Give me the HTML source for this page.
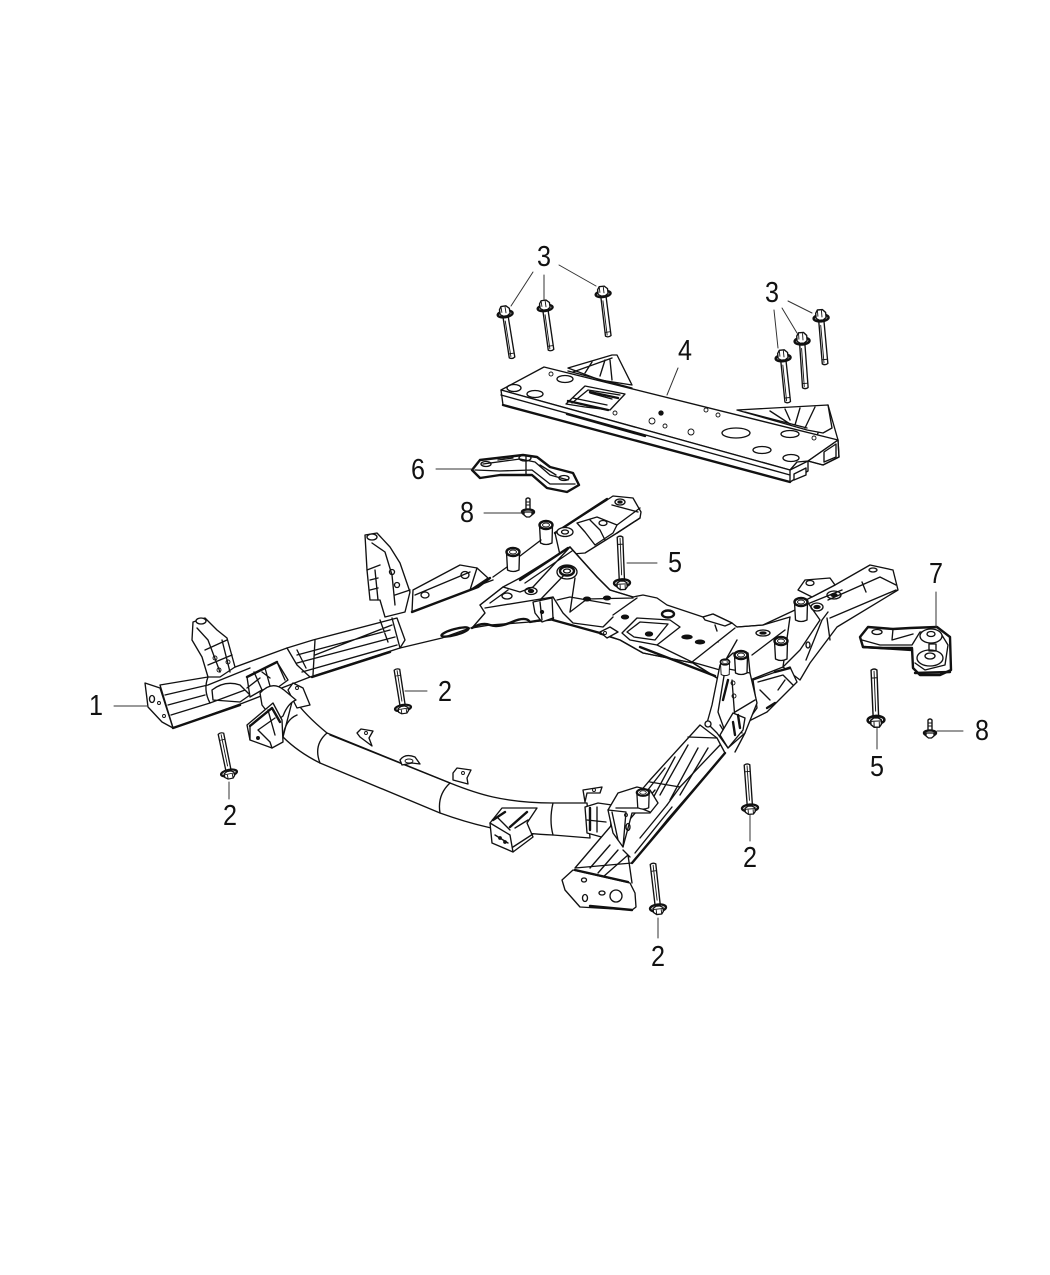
<!DOCTYPE html>
<html><head><meta charset="utf-8"><style>
html,body{margin:0;padding:0;background:#fff}
svg{display:block}
text{font-family:"Liberation Sans",sans-serif;font-size:29px;fill:#111;text-anchor:middle}
path,polygon,circle,ellipse,line,polyline{stroke:#111;stroke-width:1.35;stroke-linejoin:round;stroke-linecap:round}
.f{fill:#fff}.n{fill:none}.k{fill:#111}
.t{stroke-width:.9!important}
.h{stroke-width:2.4!important}
.l line{stroke:#333;stroke-width:1}
</style></head><body>
<svg width="1050" height="1275" viewBox="0 0 1050 1275" xmlns="http://www.w3.org/2000/svg">
<defs>
<g id="bolt"><path class="f" d="M-2.6,-3 L-2.8,-45 Q0,-47 2.8,-45 L2.6,-3Z"/><path class="n t" d="M0,-8V-44M-2.7,-38H2.7"/><ellipse class="f h" cx="0" cy="0" rx="8" ry="3.6"/><path class="f" d="M-5,0 L-5,4 L-2,6.5 L3,6.5 L5,4 L5,0 L2,-2 L-2,-2Z"/><path class="n t" d="M-2,2V6M3,2V6M-5,1H5"/></g>
<g id="bolt3"><path class="f" d="M-2.6,-3 L-2.8,-45 Q0,-47 2.8,-45 L2.6,-3Z"/><path class="n t" d="M1,-8V-44M-2.7,-41H2.7"/><ellipse class="f h" cx="0" cy="-1" rx="7.5" ry="3.2"/><path class="f" d="M-5,-1 L-5,4 L-2,7 L3,7 L5,4 L5,-1 L2,-3 L-2,-3Z"/><path class="n t" d="M-1,0V6M3,1V6"/></g>
<g id="b8"><path class="f" d="M-2,-2 L-2,-13 Q0,-15 2,-13 L2,-2Z"/><path class="n t" d="M-2,-10H2M-2,-7H2"/><ellipse class="f h" cx="0" cy="0" rx="6" ry="2.6"/><path class="f" d="M-4,0 L-4,3 L-1.5,5 L1.5,5 L4,3 L4,0Z"/></g>
<g id="bush"><path class="f" d="M-6.5,-10 L-5.5,8 Q0,11 6,8 L6.5,-10Z"/><ellipse class="f h" cx="0" cy="-10" rx="6.5" ry="4"/><ellipse class="f t" cx="0" cy="-10" rx="3.5" ry="2"/></g>
</defs>
<rect width="1050" height="1275" fill="#fff"/>
<g>

<!-- PART 4 -->
<path class="f" d="M828,405L838,440L839,457L823,465L808,461Z"/>
<polygon class="f" points="568,368 612,355 617,355 632,385 600,380"/>
<path class="n" d="M573,372L612,358M585,373L592,362M600,376L605,360M612,380L610,360M568,371L632,388"/>
<polygon class="f" points="737,410 828,405 832,428 823,433 807,430"/>
<path class="n" d="M745,412L807,428M770,411L790,424M785,409L790,420M800,408L795,425M815,407L805,428"/>
<polygon class="f" points="501,390 544,367 838,440 808,461 797,462 790,470"/>
<polygon class="f" points="501,390 790,470 790,482 503,405"/>
<path class="n" d="M501,395L790,475M503,405L790,482M790,470L808,461L808,471L790,482M808,461L838,440L839,457L823,465L808,461"/>
<path class="f" d="M794,474L806,468V475L794,480Z"/><path class="f" d="M824,452L836,444V457L824,462Z"/>
<path class="n h" d="M503,405L790,482M567,414L645,436"/>
<path class="f" d="M566,404L585,386L625,394L610,410L585,407Z"/>
<path class="n" d="M572,403L588,390L620,395M590,393L612,399M573,398L607,405"/>
<path class="n h" d="M568,401L608,410M590,392L618,398"/>
<ellipse class="n" cx="565" cy="379" rx="8" ry="3.5"/><ellipse class="n" cx="535" cy="394" rx="8" ry="3.5"/>
<ellipse class="n" cx="514" cy="388" rx="7" ry="3.5"/><ellipse class="n" cx="736" cy="433" rx="14" ry="5"/>
<ellipse class="n" cx="790" cy="434" rx="9" ry="3.5"/><ellipse class="n" cx="762" cy="450" rx="9" ry="3.5"/><ellipse class="n" cx="791" cy="458" rx="8" ry="3.5"/>
<circle class="n t" cx="615" cy="413" r="2"/><circle class="k" cx="661" cy="413" r="2"/><circle class="n t" cx="652" cy="421" r="3"/><circle class="n t" cx="665" cy="426" r="2"/><circle class="n t" cx="691" cy="432" r="3"/><circle class="n t" cx="706" cy="410" r="2"/><circle class="n t" cx="718" cy="415" r="2"/><circle class="n t" cx="814" cy="438" r="2"/><circle class="n t" cx="551" cy="374" r="2"/>

<!-- 3 bolts -->
<use href="#bolt3" transform="translate(505,313) rotate(171)"/>
<use href="#bolt3" transform="translate(545,307) rotate(172) scale(1,.96)"/>
<use href="#bolt3" transform="translate(603,293) rotate(173) scale(1,.96)"/>
<use href="#bolt3" transform="translate(821,317) rotate(175) scale(1,1.04)"/>
<use href="#bolt3" transform="translate(802,340) rotate(176) scale(1,1.06)"/>
<use href="#bolt3" transform="translate(783,357) rotate(174)"/>

<!-- PART 6 -->
<path class="f h" d="M472,470L480,460L523,455L537,457L550,467L573,473L579,485L567,492L547,488L532,475L500,475L480,478Z"/>
<path class="n" d="M475,470L500,471L532,470L550,484L575,484M483,464L520,459L535,462L550,475L568,480M526,456L526,475"/>
<ellipse class="n" cx="486" cy="464" rx="5" ry="2.5"/><ellipse class="n" cx="525" cy="458" rx="6" ry="3"/><ellipse class="n" cx="564" cy="478" rx="5" ry="2.5"/>
<path class="n" d="M498,460L513,458M540,465L556,475"/>

<!-- Far rail: thin connecting lines -->
<path class="n" d="M412,610L493,580M400,648L442,638L470,628"/>
<ellipse class="n h" cx="455" cy="632" rx="14" ry="3" transform="rotate(-15 455 632)"/>

<!-- far rail end -->
<path class="f" d="M555,533L607,500L613,496L633,498L641,512L640,518L617,533L585,553L560,555Z"/>
<path class="n h" d="M555,533L607,499"/>
<path class="n" d="M617,533L640,518M612,505L638,512M617,525L640,508"/>
<path class="f" d="M577,523L597,517L617,525L613,533L595,545L585,532Z"/>
<path class="n" d="M590,520L600,530L605,540"/>
<ellipse class="n" cx="620" cy="502" rx="5" ry="3"/><ellipse class="k" cx="620" cy="502" rx="2" ry="1"/>
<ellipse class="f" cx="565" cy="532" rx="8" ry="4.5"/><ellipse class="n" cx="565" cy="532" rx="3.5" ry="2"/>
<ellipse class="n" cx="603" cy="523" rx="4" ry="2.5"/>

<!-- bracket plate B2 -->
<polygon class="f" points="413,590 460,565 477,568 488,578 470,590 412,612"/>
<path class="n h" d="M412,612L478,587L490,578"/>
<path class="n" d="M477,568L470,590M415,595L470,572"/>
<ellipse class="n" cx="425" cy="595" rx="4" ry="3"/><ellipse class="n" cx="465" cy="575" rx="4" ry="3.5"/>

<!-- Bracket B -->
<polygon class="f" points="365,535 377,533 390,547 400,563 410,592 405,612 385,617 380,600 370,600 367,570"/>
<path class="n" d="M372,543L385,552L392,575L395,605M375,570L378,600M367,570L380,565M395,595L410,590M370,580L378,578M370,590L378,588"/>
<circle class="n" cx="392" cy="572" r="2.5"/><circle class="n" cx="397" cy="585" r="2.5"/><ellipse class="f" cx="372" cy="537" rx="5" ry="3"/>

<!-- CENTER section -->
<path class="f" d="M472,628L485,613L480,605L503,587L520,578L570,547L597,577L610,590L633,597L643,595L657,598L667,605L703,617L713,614L732,623L737,627L763,625L790,617L783,667L750,680L717,678L693,663L643,653L620,640L600,633L553,620L530,622L490,625Z"/>
<path class="n h" d="M472,628Q482,622 490,625T512,622T530,622L553,618"/>
<path class="n h" d="M520,580L568,548"/>
<path class="n" d="M525,583L572,551M503,587L520,592L533,587L570,547M485,608L553,597M480,605L503,587M490,603L508,590"/>
<ellipse class="n" cx="531" cy="591" rx="6" ry="3.5"/><ellipse class="k" cx="531" cy="591" rx="2.5" ry="1.5"/>
<ellipse class="n" cx="507" cy="596" rx="5" ry="3"/>
<path class="n" d="M570,547L597,577L610,590L633,597M570,612L587,599L633,598M613,615L637,598M553,597L563,613L573,623L603,627L613,617M557,600L570,597L610,604M553,620L600,633"/>
<path class="n" d="M540,600L567,572M575,578L570,612M600,634L620,640L643,653L693,663L717,678"/>
<path class="n h" d="M553,620L600,633M640,647L715,676"/>
<polygon class="f" points="533,602 552,598 553,618 542,622 535,613"/>
<path class="n" d="M540,602L542,620"/>
<circle class="k" cx="542" cy="612" r="1.5"/>
<ellipse class="f h" cx="567" cy="571" rx="7" ry="4.5"/><ellipse class="n" cx="567" cy="571" rx="3.5" ry="2"/><ellipse class="n" cx="567" cy="572" rx="10" ry="7"/>
<path class="f" d="M600,632L610,627L618,632L607,638Z"/><circle class="n t" cx="605" cy="633" r="1.5"/>
<path class="f" d="M622,633L637,618L670,620L680,627L657,645L630,640Z"/><path class="n" d="M627,632L640,622L668,624L655,640L634,637Z"/>
<path class="n" d="M657,645L692,662L735,628M692,662L720,670L737,640"/>
<ellipse class="f h" cx="668" cy="614" rx="6" ry="3.5"/>
<path class="f" d="M703,617L713,614L732,623L725,626L705,620Z"/>
<g class="k"><ellipse cx="587" cy="599" rx="3.5" ry="1.8"/><ellipse cx="607" cy="598" rx="3.5" ry="1.8"/><ellipse cx="625" cy="617" rx="3.5" ry="1.8"/><ellipse cx="649" cy="634" rx="3.5" ry="2"/><ellipse cx="687" cy="637" rx="5" ry="1.8"/><ellipse cx="700" cy="642" rx="4.5" ry="1.8"/></g>
<path class="n" d="M715,625L717,631M718,642h.1"/>
<path class="n" d="M737,627L763,625L795,610M752,655L785,630"/>
<ellipse class="n" cx="763" cy="633" rx="7" ry="3"/><ellipse class="k" cx="763" cy="633" rx="3" ry="1"/>

<!-- RIGHT RAIL top -->
<path class="f" d="M806,600L835,585L870,565L893,570L898,590L837,627L810,663L800,680L783,667L800,650L820,620Z"/>
<path class="n" d="M805,605L842,590M828,600L880,577L896,585M862,582L866,592M830,618L896,590M827,618L830,640M806,660L822,620L828,612"/>
<path class="f" d="M798,590L805,580L830,578L835,585L812,597Z"/><ellipse class="n" cx="810" cy="583" rx="4" ry="2.5"/>
<ellipse class="n" cx="834" cy="595" rx="7" ry="4"/><ellipse class="k" cx="834" cy="595" rx="3" ry="1.5"/><ellipse class="n" cx="817" cy="607" rx="6" ry="4"/><ellipse class="k" cx="817" cy="607" rx="3" ry="1.5"/><ellipse class="n" cx="873" cy="570" rx="4" ry="2"/><ellipse class="n" cx="808" cy="645" rx="2" ry="3"/>

<!-- BUMPER tube -->
<path class="f" d="M293,698Q305,715 327,733L450,783Q475,793 493,797Q520,803 553,803L587,803L590,838L553,835Q510,833 487,827Q465,822 440,813L320,763Q298,752 283,737Z"/>
<path class="n" d="M327,733Q313,745 320,763M450,783Q437,795 440,813M553,803Q549,820 553,835M297,715Q285,720 283,737"/>
<path class="n" d="M330,735L450,783"/>

<!-- Tabs -->
<path class="f" d="M357,733L361,729L373,731L369,738L372,746L360,737Z"/><circle class="n t" cx="366" cy="733" r="1.5"/>
<path class="f" d="M400,760Q405,753 415,757L420,764L412,763L402,765Z"/><ellipse class="n t" cx="409" cy="761" rx="4" ry="2"/>
<path class="f" d="M453,773L457,768L471,770L467,778L468,784L453,780Z"/><circle class="n t" cx="463" cy="773" r="1.5"/>
<path class="f" d="M583,790L602,787L600,793L587,793L585,802Z"/><circle class="n t" cx="594" cy="790" r="1.5"/>

<!-- Mount under bumper -->
<polygon class="f" points="490,823 502,808 537,808 527,823 533,837 513,852 492,843"/>
<path class="n h" d="M493,820L505,812M510,827L527,812"/>
<path class="n" d="M490,823L510,835L513,852M498,818L510,830M515,828L528,820M513,847L533,834M495,835L508,843"/>
<circle class="k" cx="500" cy="838" r="1.2"/><circle class="k" cx="505" cy="842" r="1.2"/>

<!-- NEAR front-left rail -->
<path class="f" d="M160,685L208,677L287,648L313,640L397,618L405,640L400,648L310,677L243,703L173,728Z"/>
<path class="n" d="M165,695L208,685L250,668M168,705L205,695M171,715L210,703L245,690M208,677Q203,690 210,703M212,690Q225,680 240,685L250,695L240,702L213,700Z"/>
<path class="n" d="M287,648L297,665L310,677M297,650L306,668M315,640L313,675M297,655L390,630M297,663L395,637M302,672L397,645M315,655L392,625M380,620L388,642M392,618L400,648"/>
<path class="n h" d="M312,677L390,652M173,728L240,705"/>
<path class="f" d="M145,683L160,688L173,728L162,722L148,707Z"/>
<ellipse class="n" cx="152" cy="699" rx="2.5" ry="3.5"/><circle class="n t" cx="159" cy="703" r="1.5"/><circle class="n t" cx="164" cy="716" r="1.5"/>

<!-- Bracket A -->
<polygon class="f" points="193,622 205,618 217,630 227,638 235,667 220,677 208,677 202,657 192,640"/>
<path class="n" d="M197,628L208,640L220,672M205,650L227,640M208,665L232,655M222,640L230,672"/>
<circle class="n t" cx="215" cy="658" r="2"/><circle class="n t" cx="219" cy="670" r="2"/><circle class="n t" cx="228" cy="662" r="2"/><ellipse class="f" cx="201" cy="621" rx="5" ry="3"/>

<!-- Rear center mount -->
<polygon class="f" points="247,677 277,662 288,680 277,688 262,690 250,697"/>
<path class="n h" d="M247,677L277,662"/>
<path class="n" d="M254,672L262,690M265,668L270,686M277,662L285,680M247,688L260,678M262,672L270,678"/>
<path class="f" d="M293,683L303,688L310,705L297,708L288,690Z"/><circle class="n t" cx="297" cy="688" r="1.5"/>

<!-- bumper left head -->
<path class="f" d="M260,693Q272,680 284,690L296,700Q288,703 283,716L275,722L262,705Z"/>
<polygon class="f" points="247,725 273,703 282,720 283,742 272,748 250,740"/>
<path class="n h" d="M250,726L272,708L280,722"/>
<path class="n" d="M258,730L270,742L272,748M268,710L275,735M250,740V725M258,730L275,718"/>
<circle class="k" cx="258" cy="738" r="1.3"/>

<!-- tube collar right end -->
<path class="f" d="M585,807L598,803L612,805L610,837L605,838L587,833Z"/>
<path class="n h" d="M590,808V830"/>
<path class="n" d="M597,807V832M587,820L606,822"/>

<!-- RIGHT near rail -->
<path class="f" d="M700,725L717,738L725,753L667,820L632,863L575,868L610,827L650,780Z"/>
<path class="n" d="M688,737L717,738M650,782L680,787L667,805M665,768L640,800M675,757L652,800M688,745L660,795M698,748L670,800M708,748L680,795"/>
<path class="n" d="M680,787L720,745M667,805L640,838M655,790L618,833M672,807L635,853"/>
<path class="n h" d="M725,753L632,863"/>

<!-- Corner mount -->
<polygon class="f" points="608,810 618,793 637,787 650,790 658,803 650,813 632,813 623,847 613,833"/>
<path class="n" d="M616,808L640,808L650,812M612,812L618,840M608,810L626,812L623,847"/>
<ellipse class="n" cx="628" cy="827" rx="2" ry="3.5"/><circle class="n t" cx="626" cy="815" r="1.5"/>
<use href="#bush" transform="translate(643,801) scale(.95,.85)"/>
<path class="n" d="M598,873L618,850M603,877L628,855L632,883M623,850L630,857M590,868L610,845"/>

<!-- Plate near end -->
<path class="f" d="M562,880L573,870L630,883L635,893L636,907L632,910L580,907L565,890Z"/>
<ellipse class="n" cx="584" cy="880" rx="2.5" ry="2"/><ellipse class="n" cx="585" cy="898" rx="2.5" ry="3.5"/><ellipse class="n" cx="602" cy="893" rx="3" ry="2"/><ellipse class="f" cx="616" cy="896" rx="6" ry="6"/>
<path class="n h" d="M575,870L628,882M590,906L632,910"/>

<!-- Right bracket cluster -->
<polygon class="f" points="753,680 790,667 797,682 767,712 747,722 757,708"/>
<path class="n h" d="M775,672L790,668M767,708L775,703"/>
<path class="n" d="M758,682L783,675L793,685M760,690L770,700M785,680L778,690"/>
<polygon class="f" points="720,665 733,653 748,653 750,673 757,703 745,733 728,748 717,733 707,723 712,705"/>
<path class="n h" d="M723,700L728,680"/>
<path class="n" d="M723,668L750,673M725,670L718,712L730,745M732,680L735,720L742,733M735,712L755,700M720,725L728,738M745,733L735,752"/>
<polygon class="f" points="733,713 745,718 743,730 728,748 720,735"/>
<path class="n h" d="M738,715L740,728M733,722L735,735"/>
<circle class="n t" cx="733" cy="683" r="2"/><circle class="n t" cx="734" cy="696" r="2"/><circle class="f" cx="708" cy="724" r="3"/>

<!-- Bushings -->
<use href="#bush" transform="translate(513,562)"/>
<use href="#bush" transform="translate(546,535)"/>
<use href="#bush" transform="translate(801,612)"/>
<use href="#bush" transform="translate(781,651)"/>
<use href="#bush" transform="translate(741,665)"/>
<use href="#bush" transform="translate(725,669) scale(.7)"/>
<path class="n" d="M493,577L507,567M520,556L541,540"/>

<!-- PART 7 -->
<path class="f h" d="M860,637L868,627L893,629L910,628L937,627L950,637L951,670L940,675L920,675L913,668L912,648L883,648L863,647Z"/>
<path class="n" d="M862,640L880,645H912M912,645L920,632L940,632L948,645L945,665L925,670L915,663M893,629L892,640L913,634"/>
<ellipse class="n" cx="877" cy="632" rx="5" ry="2.5"/>
<ellipse class="f" cx="931" cy="636" rx="11" ry="7"/><ellipse class="n" cx="931" cy="634" rx="4" ry="2.5"/>
<ellipse class="f" cx="930" cy="658" rx="13" ry="8"/><ellipse class="n" cx="930" cy="656" rx="5" ry="3"/>
<path class="n" d="M929,644H936V651H929Z"/>
<path class="n h" d="M863,647L912,650M915,673L950,672"/>

<!-- 2 and 5 bolts -->
<use href="#bolt" transform="translate(403,708) rotate(-9) scale(1,.86)"/>
<use href="#bolt" transform="translate(229,773) rotate(-11.6) scale(1,.89)"/>
<use href="#bolt" transform="translate(750,808) rotate(-4) scale(1,.96)"/>
<use href="#bolt" transform="translate(658,908) rotate(-6.5) scale(1,.98)"/>
<use href="#bolt" transform="translate(622,583) rotate(-2.5) scale(1,1.02)"/>
<use href="#bolt" transform="translate(876,720) rotate(-2.3) scale(1.05,1.11)"/>
<use href="#b8" transform="translate(528,512)"/>
<use href="#b8" transform="translate(930,733)"/>
</g>

<!-- Leaders -->
<g class="l">
<line x1="533" y1="272" x2="511" y2="306"/><line x1="544" y1="275" x2="544" y2="300"/><line x1="559" y1="265" x2="596" y2="286"/>
<line x1="774" y1="310" x2="778" y2="348"/><line x1="782" y1="308" x2="797" y2="333"/><line x1="788" y1="301" x2="812" y2="313"/>
<line x1="678" y1="368" x2="667" y2="395"/>
<line x1="436" y1="469" x2="472" y2="469"/>
<line x1="484" y1="513" x2="522" y2="513"/>
<line x1="627" y1="563" x2="657" y2="563"/>
<line x1="936" y1="592" x2="936" y2="627"/>
<line x1="405" y1="691" x2="427" y2="691"/>
<line x1="114" y1="706" x2="148" y2="706"/>
<line x1="229" y1="782" x2="229" y2="799"/>
<line x1="937" y1="731" x2="963" y2="731"/>
<line x1="877" y1="728" x2="877" y2="749"/>
<line x1="750" y1="815" x2="750" y2="841"/>
<line x1="658" y1="918" x2="658" y2="938"/>
</g>

<!-- Labels -->
<g>
<text x="544" y="266" textLength="14" lengthAdjust="spacingAndGlyphs">3</text>
<text x="772" y="302" textLength="14" lengthAdjust="spacingAndGlyphs">3</text>
<text x="685" y="360" textLength="14" lengthAdjust="spacingAndGlyphs">4</text>
<text x="418" y="479" textLength="14" lengthAdjust="spacingAndGlyphs">6</text>
<text x="467" y="522" textLength="14" lengthAdjust="spacingAndGlyphs">8</text>
<text x="675" y="572" textLength="14" lengthAdjust="spacingAndGlyphs">5</text>
<text x="936" y="583" textLength="14" lengthAdjust="spacingAndGlyphs">7</text>
<text x="445" y="701" textLength="14" lengthAdjust="spacingAndGlyphs">2</text>
<text x="96" y="715" textLength="14" lengthAdjust="spacingAndGlyphs">1</text>
<text x="230" y="825" textLength="14" lengthAdjust="spacingAndGlyphs">2</text>
<text x="982" y="740" textLength="14" lengthAdjust="spacingAndGlyphs">8</text>
<text x="877" y="776" textLength="14" lengthAdjust="spacingAndGlyphs">5</text>
<text x="750" y="867" textLength="14" lengthAdjust="spacingAndGlyphs">2</text>
<text x="658" y="966" textLength="14" lengthAdjust="spacingAndGlyphs">2</text>
</g>
</svg>
</body></html>
